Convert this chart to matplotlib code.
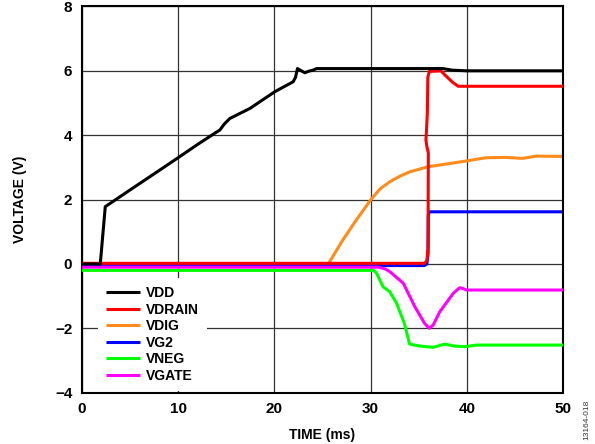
import numpy as np
from matplotlib import pyplot as plt

plt.rcParams['font.family'] = ['Liberation Sans', 'DejaVu Sans']
plt.rcParams['font.weight'] = 'bold'

# supply voltages during power-up sequencing (time in ms, volts)
t_vdd = [0, 1.9, 2.42, 5, 8, 10.04, 12.0, 14.0, 14.33, 14.8, 15.37, 17.45, 20.04, 21.95,
         22.2, 22.4, 22.8, 23.16, 23.6, 24.0, 24.4, 37.5, 38.5, 40, 50]
v_vdd = [0, 0, 1.78, 2.3, 2.9, 3.31, 3.71, 4.1, 4.16, 4.35, 4.52, 4.83, 5.35, 5.66,
         5.8, 6.07, 6.0, 5.94, 5.99, 6.02, 6.07, 6.07, 6.02, 6.0, 6.0]

t_vdrain = [0, 35.6, 35.85, 35.97, 36.0, 35.85, 35.75, 35.8, 35.85, 35.9, 35.95, 36.1,
            37.3, 37.8, 38.5, 39.1, 50]
v_vdrain = [0.02, 0.02, 0.1, 0.5, 3.45, 3.65, 3.85, 4.1, 4.4, 4.7, 5.8, 5.98,
            6.0, 5.85, 5.65, 5.52, 5.52]

t_vdig = [0, 25.6, 27.1, 28.5, 29.98, 30.97, 31.98, 33.0, 34.06, 35.97, 38.2, 39.95,
          42.0, 44.0, 45.8, 47.2, 50]
v_vdig = [0, 0, 0.74, 1.36, 1.98, 2.33, 2.55, 2.72, 2.86, 3.02, 3.12, 3.2,
          3.3, 3.31, 3.28, 3.35, 3.34]

t_vg2 = [0, 35.6, 35.85, 35.97, 36.0, 36.1, 50]
v_vg2 = [-0.05, -0.05, 0.0, 0.3, 1.5, 1.62, 1.62]

t_vneg = [0, 30.3, 30.6, 30.8, 31.3, 31.98, 32.7, 33.5, 34.06, 35.1, 36.5, 37.7,
          38.7, 39.8, 41.0, 50]
v_vneg = [-0.2, -0.2, -0.28, -0.4, -0.71, -0.86, -1.22, -1.84, -2.49, -2.55, -2.59, -2.49,
          -2.55, -2.57, -2.52, -2.52]

t_vgate = [0, 30.8, 31.5, 32.0, 33.4, 34.6, 35.6, 36.1, 36.5, 37.2, 38.6, 39.25,
           39.6, 39.95, 50]
v_vgate = [-0.1, -0.1, -0.15, -0.24, -0.6, -1.33, -1.84, -2.0, -1.9, -1.48, -0.91, -0.74,
           -0.76, -0.81, -0.81]

series = [
    ("VDD", t_vdd, v_vdd, "#000000", 6),
    ("VDRAIN", t_vdrain, v_vdrain, "#ff0000", 5),
    ("VDIG", t_vdig, v_vdig, "#ff8c1a", 1),
    ("VG2", t_vg2, v_vg2, "#0000ff", 2),
    ("VNEG", t_vneg, v_vneg, "#00ff00", 3),
    ("VGATE", t_vgate, v_vgate, "#ff00ff", 4),
]

fig = plt.figure(figsize=(5.95, 4.44), dpi=100)
ax = fig.add_axes([0.1378, 0.1155, 0.8084, 0.87])

for name, t, v, c, z in series:
    ax.plot(t, v, color=c, linewidth=2.2, label=name, zorder=z,
            solid_joinstyle='round', solid_capstyle='butt')

ax.set_xlim(0, 50)
ax.set_ylim(-4, 8)
ax.set_xticks(np.arange(0, 51, 10))
ax.set_yticks(np.arange(-4, 9, 2))
ax.grid(True, color='#333333', linewidth=0.9)
ax.set_axisbelow(True)
for s in ax.spines.values():
    s.set_linewidth(1.5)
ax.tick_params(length=0, labelsize=11, pad=7)
for lab in ax.get_xticklabels() + ax.get_yticklabels():
    lab.set_fontweight('bold')

ax.set_xlabel('TIME (ms)', fontsize=10, fontweight='bold', labelpad=8)
ax.set_ylabel('VOLTAGE (V)', fontsize=10, fontweight='bold', labelpad=20)

leg = ax.legend(loc='upper left', bbox_to_anchor=(0.033, 0.297), borderaxespad=0,
                frameon=True, fancybox=False, framealpha=1, edgecolor='none',
                facecolor='white', fontsize=10, handlelength=2.4,
                handletextpad=0.45, labelspacing=0.18, borderpad=0.6)
for txt in leg.get_texts():
    txt.set_fontweight('bold')
leg.set_zorder(10)

fig.text(0.993, 0.01, '13164-018', rotation=90, fontsize=6, fontweight='normal',
         ha='right', va='bottom', color='#333333')

fig.savefig('out.png', dpi=100)
